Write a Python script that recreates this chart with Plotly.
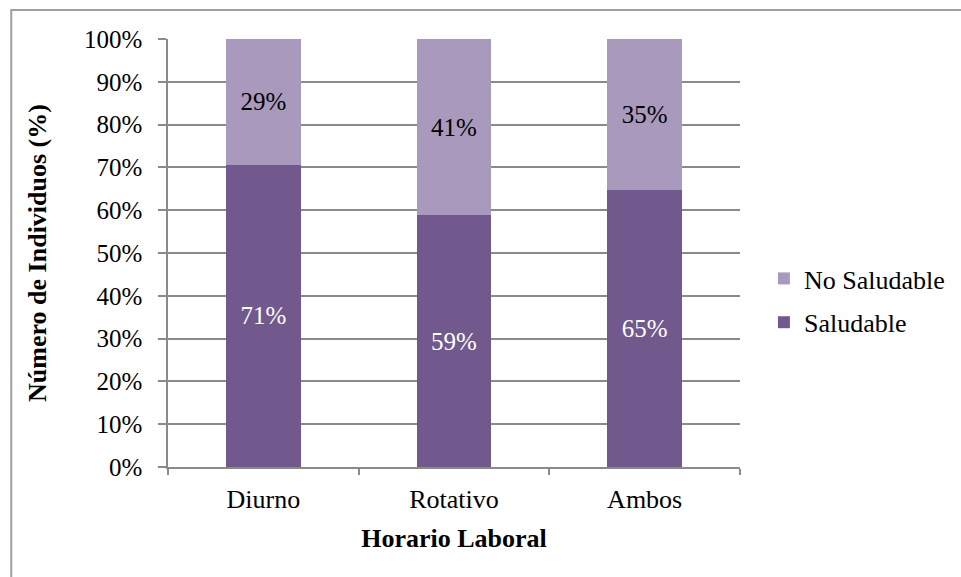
import plotly.graph_objects as go

categorias = ["Diurno", "Rotativo", "Ambos"]
saludable = [0.706, 0.588, 0.647]
no_saludable = [0.294, 0.412, 0.353]
y_ticks = [i / 10 for i in range(11)]

W, H = 961, 577
L, R, T, B = 168, 220, 39, 110
pw, ph = W - L - R, H - T - B

FONT = "Liberation Serif"
GRID = "#8a8a8a"

fig = go.Figure()
fig.add_trace(go.Bar(
    x=categorias, y=saludable, name="Saludable", legendgroup="a", legendrank=2,
    marker=dict(color="#71598E", line=dict(width=0)),
    texttemplate="%{y:.0%}", textposition="inside", insidetextanchor="middle",
    textfont=dict(color="white", size=25, family=FONT), constraintext="none",
))
fig.add_trace(go.Bar(
    x=categorias, y=no_saludable, name="No Saludable", legendgroup="b", legendrank=1,
    marker=dict(color="#A99ABD", line=dict(width=0)),
    texttemplate="%{y:.0%}", textposition="inside", insidetextanchor="middle",
    textfont=dict(color="black", size=25, family=FONT), constraintext="none",
))

# outer chart frame
fx0 = (11 - L) / pw
fy1 = 1 + (T - 10) / ph
fig.add_shape(type="rect", xref="paper", yref="paper",
              x0=fx0, x1=1 + (W + 20 - L - pw) / pw, y0=-(B + 20) / ph, y1=fy1,
              line=dict(color="#a0a0a0", width=2), fillcolor="rgba(0,0,0,0)", layer="below")

fig.update_layout(
    width=W, height=H,
    margin=dict(l=L, r=R, t=T, b=B, pad=0),
    paper_bgcolor="white", plot_bgcolor="white",
    barmode="stack", bargap=0.607,
    font=dict(family=FONT, size=25, color="black"),
    legend=dict(x=1.040, xanchor="left", y=0.389, yanchor="middle",
                traceorder="grouped", tracegroupgap=7,
                font=dict(size=26, family=FONT, color="black"), bgcolor="rgba(0,0,0,0)"),
    showlegend=True,
)
fig.update_yaxes(
    range=[0, 1], tickvals=y_ticks, tickformat=".0%",
    showgrid=True, gridcolor=GRID, gridwidth=1.5,
    showline=True, linecolor=GRID, linewidth=1.5,
    ticks="outside", ticklen=8, tickcolor=GRID, tickwidth=1.5, ticklabelstandoff=11,
    tickfont=dict(size=25, family=FONT, color="black"),
    title=dict(text="<b>Número de Individuos (%)</b>", standoff=30,
               font=dict(size=26, family=FONT, color="black")),
    zeroline=False, automargin=False,
)
fig.update_xaxes(
    showline=True, linecolor=GRID, linewidth=1.5,
    ticks="outside", ticklen=6, tickcolor=GRID, tickwidth=1.5, tickson="boundaries",
    ticklabelstandoff=8,
    tickfont=dict(size=26, family=FONT, color="black"),
    title=dict(text="<b>Horario Laboral</b>", standoff=16,
               font=dict(size=26, family=FONT, color="black")),
    automargin=False,
)

fig.write_html("out.html")
